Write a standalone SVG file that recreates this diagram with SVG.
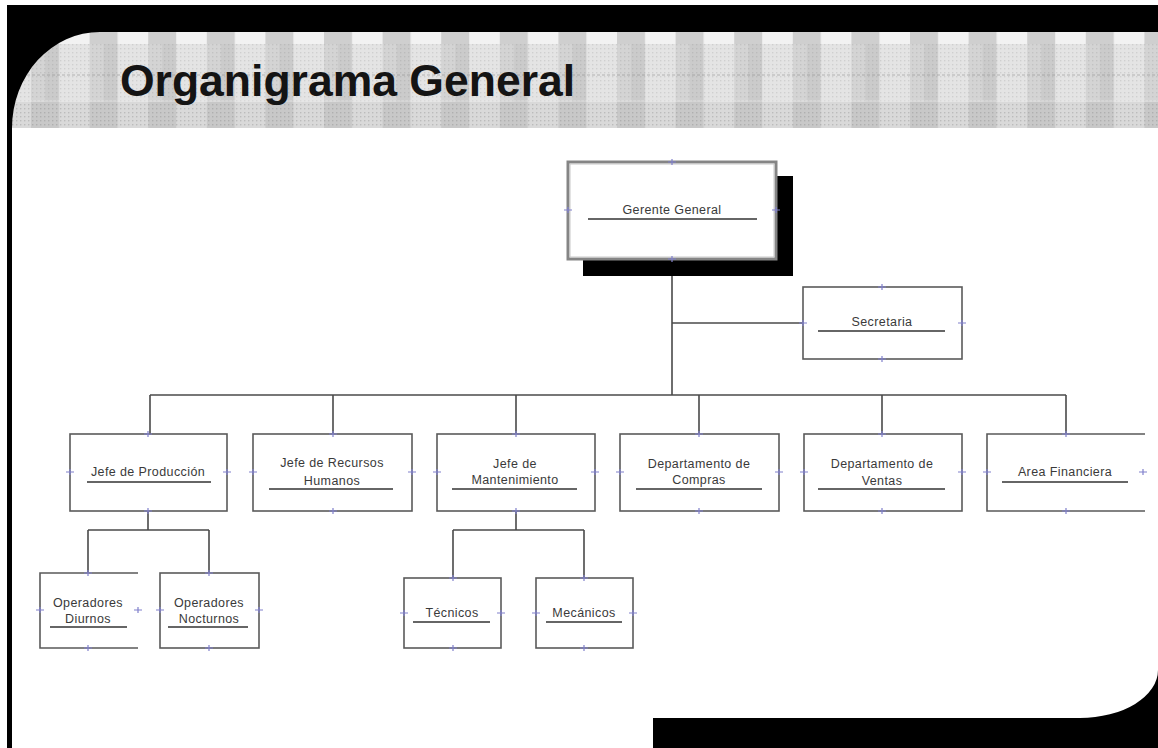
<svg xmlns="http://www.w3.org/2000/svg" width="1158" height="748" viewBox="0 0 1158 748">
  <style>
    .box { fill: #ffffff; stroke: #5a5a5a; stroke-width: 1.6; }
    .edge { fill: none; stroke: #5a5a5a; stroke-width: 1.6; }
    .lbl { font-family: "Liberation Sans", Arial, sans-serif; font-size: 12.5px; fill: #3a3a3a; text-anchor: middle; letter-spacing: 0.4px; }
    .ul { stroke: #333333; stroke-width: 1.3; }
    .wire { fill: none; stroke: #4a4a4a; stroke-width: 1.6; }
    .mk { fill: none; stroke: #8080cc; stroke-width: 1.2; }
    .title { font-family: "Liberation Sans", Arial, sans-serif; font-size: 44.5px; font-weight: bold; fill: #141414; }
  </style>
  <defs>
    <!-- checkered header band, one column pair per tile -->
    <pattern id="cols" x="31" y="32" width="58.6" height="96" patternUnits="userSpaceOnUse">
      <rect x="0" y="0" width="58.6" height="96" fill="#cbcbcb"/>
      <rect x="0" y="0" width="58.6" height="12" fill="#cfcfcf"/>
      <rect x="28" y="0" width="30.6" height="12" fill="#f2f2f2"/>
      <rect x="28" y="12" width="30.6" height="58" fill="#e4e4e4"/>
      <rect x="0" y="12" width="14" height="58" fill="#d4d4d4"/>
      <rect x="0" y="70" width="58.6" height="26" fill="#c8c8c8"/>
      <rect x="28" y="70" width="30.6" height="26" fill="#d9d9d9"/>
    </pattern>
    <pattern id="dots" x="0" y="0" width="4" height="4" patternUnits="userSpaceOnUse">
      <rect x="0" y="0" width="1.4" height="1.4" fill="#7a7a7a"/>
    </pattern>
    <path id="mk" class="mk" d="M-4,0 H4 M0,-3 V3"/>
  </defs>

  <rect x="0" y="0" width="1158" height="748" fill="#ffffff"/>

  <!-- header band -->
  <rect x="12" y="32" width="1146" height="96" fill="url(#cols)"/>
  <rect x="12" y="44" width="1146" height="58" fill="url(#dots)" opacity="0.2"/>
  <rect x="12" y="102" width="1146" height="26" fill="url(#dots)" opacity="0.32"/>
  <line x1="12" y1="75" x2="1158" y2="75" stroke="#8a8a8a" stroke-width="1" stroke-dasharray="3 2" opacity="0.55"/>
  <line x1="12" y1="101" x2="1158" y2="101" stroke="#ececec" stroke-width="1" opacity="0.7"/>

  <!-- black frame: top band with rounded corner and left rule -->
  <path d="M7,5 H1158 V32 H100 A88,96 0 0 0 12,128 V748 H7 Z" fill="#000000"/>
  <!-- black bottom-right block -->
  <path d="M653,718 H1080 A78,48 0 0 0 1158,670 V748 H653 Z" fill="#000000"/>

  <text class="title" x="120" y="96">Organigrama General</text>

  <!-- connectors -->
  <g id="connectors">
    <path class="wire" d="M672,260 V395"/>
    <path class="wire" d="M672,323 H803"/>
    <path class="wire" d="M150,395 H1066"/>
    <path class="wire" d="M150,395 V434 M333,395 V434 M516,395 V434 M699,395 V434 M882,395 V434 M1066,395 V434"/>
    <path class="wire" d="M148,511 V530 M88,530 H209 M88,530 V573 M209,530 V573"/>
    <path class="wire" d="M516,511 V530 M453,530 H584 M453,530 V578 M584,530 V578"/>
  </g>

  <!-- top node -->
  <g id="gerente-general">
    <rect x="583" y="176" width="210" height="100" fill="#000000"/>
    <rect x="568" y="162" width="208" height="97" fill="#ffffff" stroke="#858585" stroke-width="3"/>
    <rect x="570" y="164" width="204" height="93" fill="none" stroke="#c8c8c8" stroke-width="1"/>
    <text class="lbl" x="672" y="214">Gerente General</text>
    <line class="ul" x1="588" y1="219" x2="757" y2="219"/>
    <use href="#mk" x="672" y="162"/><use href="#mk" x="672" y="259"/>
    <use href="#mk" x="568" y="210"/><use href="#mk" x="776" y="210"/>
  </g>

  <g id="secretaria">
    <rect class="box" x="803" y="287" width="159" height="72"/>
    <text class="lbl" x="882" y="326">Secretaria</text>
    <line class="ul" x1="818" y1="331" x2="945" y2="331"/>
    <use href="#mk" x="882" y="287"/><use href="#mk" x="882" y="359"/>
    <use href="#mk" x="803" y="323"/><use href="#mk" x="962" y="323"/>
  </g>

  <g id="jefe-produccion">
    <rect class="box" x="70" y="434" width="157" height="77"/>
    <text class="lbl" x="148" y="476">Jefe de Producción</text>
    <line class="ul" x1="87" y1="482" x2="211" y2="482"/>
    <use href="#mk" x="148" y="434"/><use href="#mk" x="148" y="511"/>
    <use href="#mk" x="70" y="472"/><use href="#mk" x="227" y="472"/>
  </g>

  <g id="jefe-recursos-humanos">
    <rect class="box" x="253" y="434" width="159" height="77"/>
    <text class="lbl" x="332" y="467">Jefe de Recursos</text>
    <text class="lbl" x="332" y="485">Humanos</text>
    <line class="ul" x1="269" y1="489" x2="393" y2="489"/>
    <use href="#mk" x="333" y="434"/><use href="#mk" x="333" y="511"/>
    <use href="#mk" x="253" y="472"/><use href="#mk" x="412" y="472"/>
  </g>

  <g id="jefe-mantenimiento">
    <rect class="box" x="437" y="434" width="158" height="77"/>
    <text class="lbl" x="515" y="468">Jefe de</text>
    <text class="lbl" x="515" y="484">Mantenimiento</text>
    <line class="ul" x1="452" y1="489" x2="577" y2="489"/>
    <use href="#mk" x="516" y="434"/><use href="#mk" x="516" y="511"/>
    <use href="#mk" x="437" y="472"/><use href="#mk" x="595" y="472"/>
  </g>

  <g id="depto-compras">
    <rect class="box" x="620" y="434" width="159" height="77"/>
    <text class="lbl" x="699" y="468">Departamento de</text>
    <text class="lbl" x="699" y="484">Compras</text>
    <line class="ul" x1="636" y1="489" x2="762" y2="489"/>
    <use href="#mk" x="699" y="434"/><use href="#mk" x="699" y="511"/>
    <use href="#mk" x="620" y="472"/><use href="#mk" x="779" y="472"/>
  </g>

  <g id="depto-ventas">
    <rect class="box" x="804" y="434" width="158" height="77"/>
    <text class="lbl" x="882" y="468">Departamento de</text>
    <text class="lbl" x="882" y="485">Ventas</text>
    <line class="ul" x1="818" y1="489" x2="945" y2="489"/>
    <use href="#mk" x="882" y="434"/><use href="#mk" x="882" y="511"/>
    <use href="#mk" x="804" y="472"/><use href="#mk" x="962" y="472"/>
  </g>

  <g id="area-financiera">
    <path class="edge" d="M1145,434 H987 V511 H1145"/>
    <text class="lbl" x="1065" y="476">Area Financiera</text>
    <line class="ul" x1="1002" y1="482" x2="1128" y2="482"/>
    <use href="#mk" x="1066" y="434"/><use href="#mk" x="1066" y="511"/>
    <use href="#mk" x="987" y="472"/><use href="#mk" x="1143" y="472"/>
  </g>

  <g id="operadores-diurnos">
    <path class="edge" d="M138,573 H40 V648 H138"/>
    <text class="lbl" x="88" y="607">Operadores</text>
    <text class="lbl" x="88" y="623">Diurnos</text>
    <line class="ul" x1="50" y1="627" x2="127" y2="627"/>
    <use href="#mk" x="88" y="573"/><use href="#mk" x="88" y="648"/>
    <use href="#mk" x="40" y="610"/><use href="#mk" x="138" y="610"/>
  </g>

  <g id="operadores-nocturnos">
    <rect class="box" x="160" y="573" width="99" height="75"/>
    <text class="lbl" x="209" y="607">Operadores</text>
    <text class="lbl" x="209" y="623">Nocturnos</text>
    <line class="ul" x1="168" y1="627" x2="248" y2="627"/>
    <use href="#mk" x="209" y="573"/><use href="#mk" x="209" y="648"/>
    <use href="#mk" x="160" y="610"/><use href="#mk" x="259" y="610"/>
  </g>

  <g id="tecnicos">
    <rect class="box" x="404" y="578" width="97" height="70"/>
    <text class="lbl" x="452" y="617">Técnicos</text>
    <line class="ul" x1="413" y1="622" x2="490" y2="622"/>
    <use href="#mk" x="453" y="578"/><use href="#mk" x="453" y="648"/>
    <use href="#mk" x="404" y="613"/><use href="#mk" x="501" y="613"/>
  </g>

  <g id="mecanicos">
    <rect class="box" x="536" y="578" width="97" height="70"/>
    <text class="lbl" x="584" y="617">Mecánicos</text>
    <line class="ul" x1="546" y1="622" x2="622" y2="622"/>
    <use href="#mk" x="584" y="578"/><use href="#mk" x="584" y="648"/>
    <use href="#mk" x="536" y="613"/><use href="#mk" x="633" y="613"/>
  </g>
</svg>
